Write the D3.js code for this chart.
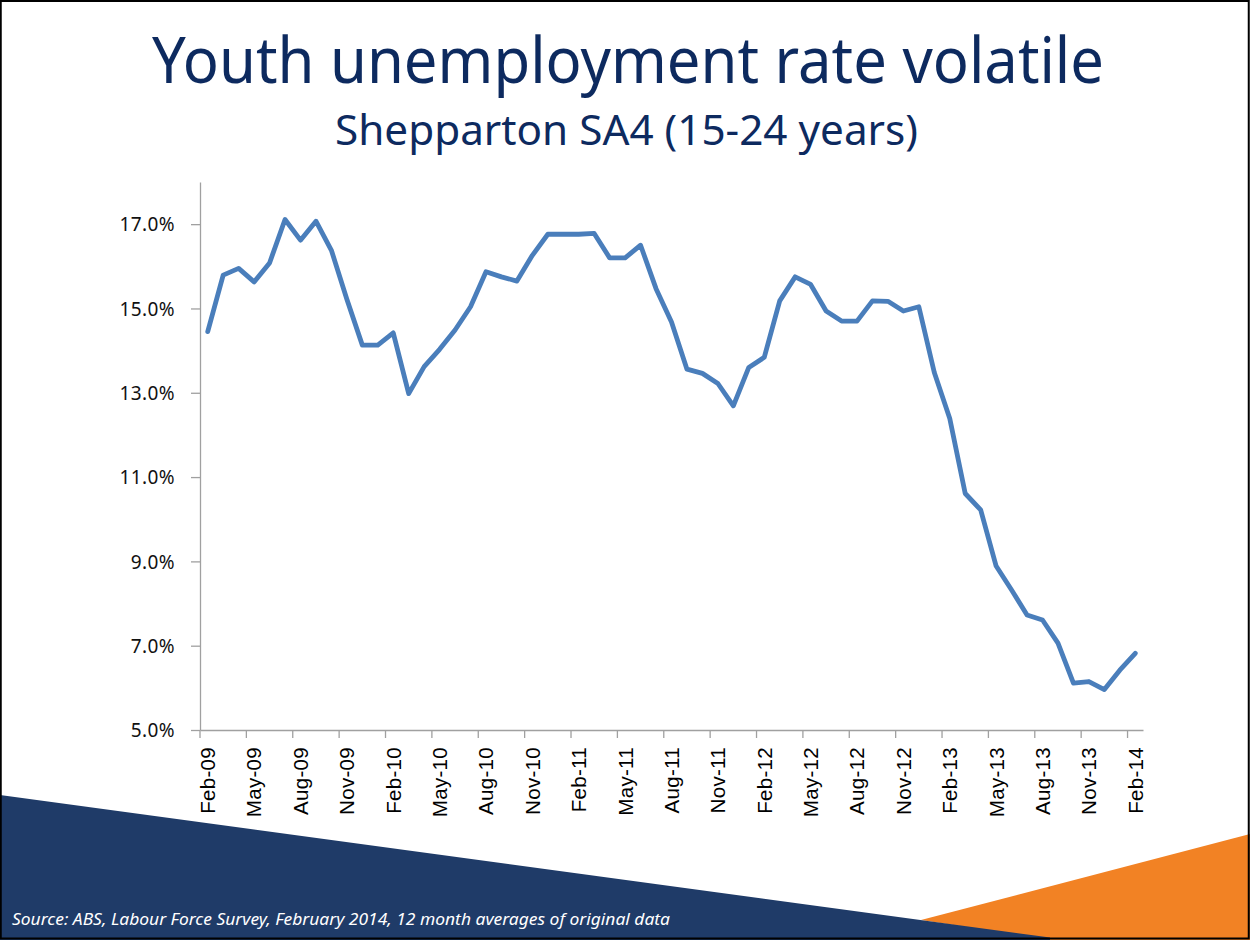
<!DOCTYPE html>
<html>
<head>
<meta charset="utf-8">
<script src="https://cdn.jsdelivr.net/npm/d3@7"></script>
<style>
  html, body { margin: 0; padding: 0; background: #fff; }
  svg { display: block; }
</style>
</head>
<body>
<svg id="chart" width="1250" height="940"></svg>
<script>
const titleText = "Youth unemployment rate volatile";
const subtitleText = "Shepparton SA4 (15-24 years)";
const sourceText = "Source: ABS, Labour Force Survey, February 2014, 12 month averages of original data";

const months = [
  "Feb-09","Mar-09","Apr-09","May-09","Jun-09","Jul-09","Aug-09","Sep-09","Oct-09","Nov-09","Dec-09",
  "Jan-10","Feb-10","Mar-10","Apr-10","May-10","Jun-10","Jul-10","Aug-10","Sep-10","Oct-10","Nov-10","Dec-10",
  "Jan-11","Feb-11","Mar-11","Apr-11","May-11","Jun-11","Jul-11","Aug-11","Sep-11","Oct-11","Nov-11","Dec-11",
  "Jan-12","Feb-12","Mar-12","Apr-12","May-12","Jun-12","Jul-12","Aug-12","Sep-12","Oct-12","Nov-12","Dec-12",
  "Jan-13","Feb-13","Mar-13","Apr-13","May-13","Jun-13","Jul-13","Aug-13","Sep-13","Oct-13","Nov-13","Dec-13",
  "Jan-14","Feb-14"
];

const rates = [
  14.45, 15.79, 15.95, 15.63, 16.08, 17.11, 16.62, 17.07, 16.38, 15.22,
  14.13, 14.13, 14.42, 12.98, 13.62, 14.03, 14.49, 15.04, 15.87, 15.75,
  15.65, 16.26, 16.76, 16.76, 16.76, 16.78, 16.20, 16.20, 16.50, 15.47,
  14.68, 13.56, 13.46, 13.22, 12.69, 13.60, 13.84, 15.18, 15.75, 15.57,
  14.94, 14.70, 14.70, 15.18, 15.17, 14.94, 15.04, 13.48, 12.39, 10.61,
  10.22, 8.89, 8.32, 7.73, 7.61, 7.06, 6.11, 6.15, 5.96, 6.42,
  6.82
];

const xTickLabels = ["Feb-09","May-09","Aug-09","Nov-09","Feb-10","May-10","Aug-10","Nov-10",
  "Feb-11","May-11","Aug-11","Nov-11","Feb-12","May-12","Aug-12","Nov-12",
  "Feb-13","May-13","Aug-13","Nov-13","Feb-14"];
const yTickValues = [5, 7, 9, 11, 13, 15, 17];
const yDomain = [5, 18];

const svg = d3.select("#chart");
const W = 1250, H = 940;

// background decorations
svg.append("rect").attr("x", 0).attr("y", 0).attr("width", W).attr("height", H).attr("fill", "#fff");
svg.append("polygon")
  .attr("points", "921,920 1250,834 1250,940 1050,940")
  .attr("fill", "#f28224");
svg.append("polygon")
  .attr("points", "0,795 1050,937.5 1050,940 0,940")
  .attr("fill", "#1f3b68");

// titles
svg.append("text")
  .attr("x", 152).attr("y", 83)
  .attr("font-family", "'Noto Sans', 'Open Sans', sans-serif")
  .attr("font-size", 64)
  .attr("fill", "#0d2a5f")
  .attr("textLength", 952).attr("lengthAdjust", "spacingAndGlyphs")
  .text(titleText);
svg.append("text")
  .attr("x", 335).attr("y", 145)
  .attr("font-family", "'Noto Sans', 'Open Sans', sans-serif")
  .attr("font-size", 42)
  .attr("fill", "#0d2a5f")
  .attr("textLength", 583).attr("lengthAdjust", "spacingAndGlyphs")
  .text(subtitleText);

// scales
const x = d3.scaleBand().domain(months).range([200, 1143]).padding(0);
const bw = x.bandwidth();
const y = d3.scaleLinear().domain(yDomain).range([730, 182]);

// y axis
const yAxis = svg.append("g")
  .attr("transform", "translate(200,0)")
  .call(d3.axisLeft(y).tickValues(yTickValues).tickSize(9).tickSizeOuter(0)
    .tickFormat(d => d.toFixed(1) + "%"));
yAxis.select(".domain").attr("stroke", "#a0a0a0").attr("stroke-width", 1.3);
yAxis.selectAll(".tick line").attr("stroke", "#a0a0a0").attr("stroke-width", 1.3);
yAxis.selectAll(".tick text")
  .attr("x", -25)
  .attr("dy", "0.36em")
  .attr("font-family", "'Noto Sans', sans-serif")
  .attr("font-size", 19)
  .attr("letter-spacing", 0.4)
  .attr("fill", "#111");

// x axis
const xAxis = svg.append("g")
  .attr("transform", "translate(0,730)")
  .call(d3.axisBottom(x).tickValues(xTickLabels).tickSize(8).tickSizeOuter(0));
xAxis.select(".domain").attr("stroke", "#a0a0a0").attr("stroke-width", 1.3);
xAxis.selectAll(".tick line")
  .attr("x1", -bw / 2).attr("x2", -bw / 2)
  .attr("stroke", "#a0a0a0").attr("stroke-width", 1.3);
xAxis.selectAll(".tick text")
  .attr("transform", "rotate(-90)")
  .attr("text-anchor", "end")
  .attr("x", -17).attr("y", 0)
  .attr("dy", "0.36em")
  .attr("font-family", "'Liberation Sans', Arial, sans-serif")
  .attr("font-size", 20.5)
  .attr("letter-spacing", 0.3)
  .attr("fill", "#000");

// line
const line = d3.line()
  .x((d, i) => x(months[i]) + bw / 2)
  .y(d => y(d));
svg.append("path")
  .datum(rates)
  .attr("d", line)
  .attr("fill", "none")
  .attr("stroke", "#4a7ebb")
  .attr("stroke-width", 4.8)
  .attr("stroke-linejoin", "round")
  .attr("stroke-linecap", "round");

// source
svg.append("text")
  .attr("x", 12).attr("y", 925)
  .attr("font-family", "'Noto Sans', 'Open Sans', sans-serif")
  .attr("font-style", "italic")
  .attr("font-size", 17)
  .attr("fill", "#ffffff")
  .attr("textLength", 658).attr("lengthAdjust", "spacingAndGlyphs")
  .text(sourceText);

// border
svg.append("rect").attr("x", 0.75).attr("y", 1).attr("width", W - 2).attr("height", H - 2.5)
  .attr("fill", "none").attr("stroke", "#000").attr("stroke-width", 2);
</script>
</body>
</html>
